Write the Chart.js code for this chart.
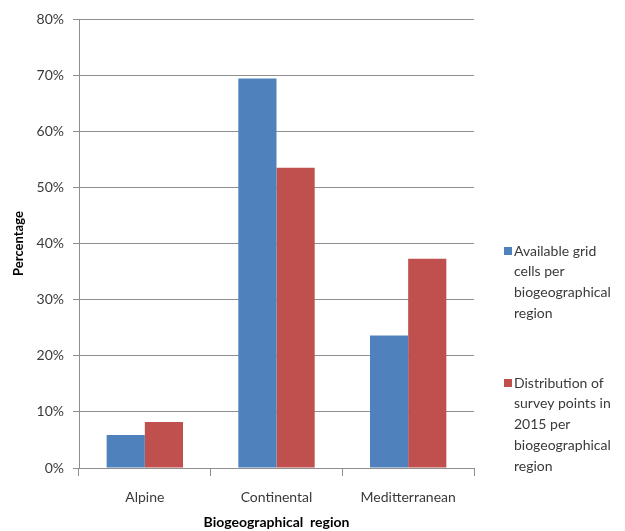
<!DOCTYPE html>
<html>
<head>
<meta charset="utf-8">
<script src="https://cdn.jsdelivr.net/npm/chart.js@4/dist/chart.umd.min.js"></script>
<style>
  html, body { margin: 0; padding: 0; background: #fff; }
  #wrap { width: 625px; height: 531px; }
</style>
</head>
<body>
<div id="wrap"><canvas id="chart" width="625" height="531"></canvas></div>
<script>
// Chart data
const regions = ['Alpine', 'Continental', 'Meditterranean'];
const availableCells = [5.9, 69.4, 23.6];
const surveyPoints = [8.2, 53.5, 37.3];
const yTicks = [0, 10, 20, 30, 40, 50, 60, 70, 80];

const seriesNames = [
    'Available grid cells per biogeographical region',
    'Distribution of survey points in 2015 per biogeographical region'
];
const legendLines = [
    ['Available grid', 'cells per', 'biogeographical', 'region'],
    ['Distribution of', 'survey points in', '2015 per', 'biogeographical', 'region']
];

const blue = '#4F81BD';
const red = '#C0504D';
const gridGrey = '#8E8E8E';

// Legend on the right, drawn like the Excel one
const sideLegend = {
    id: 'sideLegend',
    afterDraw(chart) {
        const ctx = chart.ctx;
        const starts = [251, 383];
        const lineH = 20.8;
        ctx.save();
        ctx.font = '14px Lato';
        ctx.textBaseline = 'middle';
        ctx.textAlign = 'left';
        chart.data.datasets.forEach((ds, i) => {
            ctx.fillStyle = ds.backgroundColor;
            ctx.fillRect(504, starts[i] - 4, 8, 8);
            ctx.fillStyle = '#3a3a3a';
            legendLines[i].forEach((line, j) => {
                ctx.fillText(line, 514, starts[i] + j * lineH);
            });
        });
        ctx.restore();
    }
};

new Chart(document.getElementById('chart'), {
    type: 'bar',
    data: {
        labels: regions,
        datasets: [
            { label: seriesNames[0], data: availableCells, backgroundColor: blue },
            { label: seriesNames[1], data: surveyPoints, backgroundColor: red }
        ]
    },
    options: {
        responsive: false,
        animation: false,
        layout: { padding: { top: 19, right: 151, left: 0, bottom: 0 } },
        datasets: { bar: { categoryPercentage: 0.58, barPercentage: 1.0 } },
        plugins: {
            legend: { display: false },
            tooltip: { enabled: false }
        },
        scales: {
            x: {
                afterFit: s => { s.height = 63; },
                grid: {
                    drawOnChartArea: false,
                    offset: true,
                    tickLength: 8,
                    color: gridGrey
                },
                border: { color: gridGrey },
                ticks: {
                    padding: 13,
                    color: '#3a3a3a',
                    font: { family: 'Lato', size: 14 }
                },
                title: {
                    display: true,
                    text: 'Biogeographical  region',
                    color: '#000',
                    font: { family: 'Lato', size: 14, weight: 'bold' },
                    padding: { top: 0, bottom: 0 }
                }
            },
            y: {
                min: 0,
                max: 80,
                afterFit: s => { s.width = 79; },
                afterBuildTicks: s => { s.ticks = yTicks.map(v => ({ value: v })); },
                grid: { color: gridGrey, tickLength: 6 },
                border: { color: gridGrey },
                ticks: {
                    padding: 9,
                    color: '#3a3a3a',
                    font: { family: 'Lato', size: 14 },
                    callback: v => v + '%'
                },
                title: {
                    display: true,
                    text: 'Percentage',
                    color: '#000',
                    font: { family: 'Lato', size: 13, weight: 'bold' },
                    padding: { top: 11, bottom: 4 }
                }
            }
        }
    },
    plugins: [sideLegend]
});
</script>
</body>
</html>
